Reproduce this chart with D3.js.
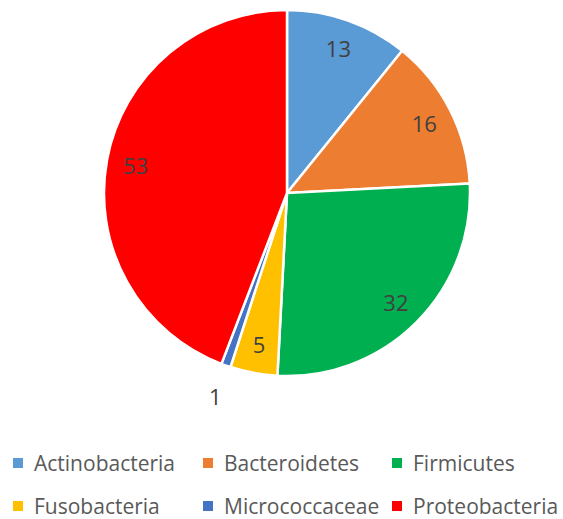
<!DOCTYPE html>
<html><head><meta charset="utf-8">
<script src="https://cdn.jsdelivr.net/npm/d3@7"></script>
<style>body{margin:0;background:#fff}svg{display:block}</style>
</head><body>
<script>
const categories = ["Actinobacteria","Bacteroidetes","Firmicutes","Fusobacteria","Micrococcaceae","Proteobacteria"];
const values = [13,16,32,5,1,53];
const colors = ["#5b9bd5","#ed7d31","#00b050","#ffc000","#4472c4","#ff0000"];
const outsideLabels = ["Micrococcaceae"];

const W=563,H=519;
const svg=d3.select("body").append("svg").attr("width",W).attr("height",H);
const cx=287, cy=193, R=183;
const font="'Open Sans', sans-serif";
const data=categories.map((c,i)=>({c,v:values[i],col:colors[i]}));
const pie=d3.pie().value(d=>d.v).sort(null);
const arcs=pie(data);
const arc=d3.arc().innerRadius(0).outerRadius(R);
const g=svg.append("g").attr("transform",`translate(${cx},${cy})`);
g.selectAll("path").data(arcs).join("path").attr("d",arc).attr("fill",d=>d.data.col)
 .attr("stroke","#fff").attr("stroke-width",2.5).attr("stroke-linejoin","round");
const inArc=d3.arc().innerRadius(154).outerRadius(154);
const outArc=d3.arc().innerRadius(215).outerRadius(215);
g.selectAll("text").data(arcs).join("text")
 .attr("transform",d=>`translate(${(outsideLabels.includes(d.data.c)?outArc:inArc).centroid(d)})`)
 .attr("text-anchor","middle").attr("dominant-baseline","central")
 .attr("font-family",font).attr("font-size",22).attr("fill","#404040")
 .text(d=>d.data.v);

const legX=[13,203,392], legY=[463,506];
const lg=svg.append("g");
data.forEach((d,i)=>{
  const x=legX[i%3], y=legY[Math.floor(i/3)];
  lg.append("rect").attr("x",x).attr("y",y-5).attr("width",10).attr("height",10).attr("fill",d.col);
  lg.append("text").attr("x",x+21).attr("y",y).attr("dominant-baseline","central")
    .attr("font-family",font).attr("font-size",21).attr("fill","#595959").text(d.c);
});
</script>
</body></html>
